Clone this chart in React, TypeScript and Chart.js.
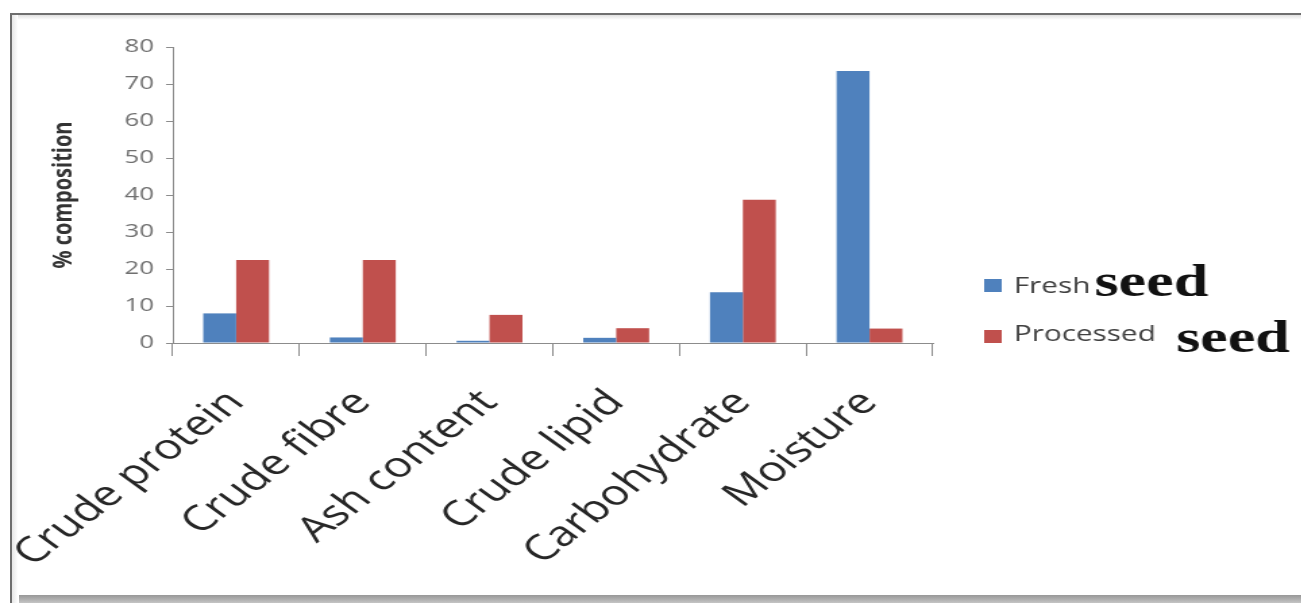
import React, { useEffect, useRef } from "react";
import { Chart, registerables } from "chart.js";

Chart.register(...registerables);

// Proximate composition of the seed, per cent
const categories = ["Crude protein", "Crude fibre", "Ash content", "Crude lipid", "Carbohydrate", "Moisture"];
const freshSeed = [8.0, 1.5, 0.6, 1.4, 13.7, 73.5];
const processedSeed = [22.4, 22.4, 7.6, 4.0, 38.7, 3.9];
const seriesNames = ["Fresh", "Processed"];
const seriesSuffix = ["seed", "seed"];
const seriesColors = ["#4F81BD", "#C0504D"];
const yTicks = [0, 10, 20, 30, 40, 50, 60, 70, 80];
const yTitle = "% composition";

// The drawing is made narrow and widened on screen, which gives the wide lettering.
const STRETCH = 1.35;
const CANVAS_W = 964;
const CANVAS_H = 603;

const legendRows = [
  { boxTop: 279, base: 293, gap: 3, suffixBase: 296 },
  { boxTop: 330, base: 341, gap: 15, suffixBase: 352 },
];

const seedLegend = {
  id: "seedLegend",
  afterDraw(chart: any) {
    const { ctx, chartArea } = chart;
    const x0 = chartArea.right + 38;
    ctx.save();
    chart.data.datasets.forEach((ds: any, i: number) => {
      const row = legendRows[i];
      ctx.fillStyle = ds.backgroundColor;
      ctx.fillRect(x0, row.boxTop, 13, 13);
      ctx.textBaseline = "alphabetic";
      ctx.textAlign = "left";
      ctx.font = '22px "Open Sans"';
      ctx.fillStyle = "#404040";
      ctx.fillText(seriesNames[i], x0 + 22, row.base);
      const w = ctx.measureText(seriesNames[i]).width;
      ctx.font = 'bold 46px "Liberation Serif"';
      ctx.fillStyle = "#111111";
      ctx.fillText(seriesSuffix[i], x0 + 22 + w + row.gap, row.suffixBase);
    });
    ctx.restore();
  },
};

export default function App() {
  const canvasRef = useRef<HTMLCanvasElement | null>(null);

  useEffect(() => {
    if (!canvasRef.current) return;
    const axisColor = "#8c8c8c";
    const chart = new Chart(canvasRef.current, {
      type: "bar",
      data: {
        labels: categories,
        datasets: [
          {
            label: seriesNames[0] + " " + seriesSuffix[0],
            data: freshSeed,
            backgroundColor: seriesColors[0],
            categoryPercentage: 0.52,
            barPercentage: 1,
          },
          {
            label: seriesNames[1] + " " + seriesSuffix[1],
            data: processedSeed,
            backgroundColor: seriesColors[1],
            categoryPercentage: 0.52,
            barPercentage: 1,
          },
        ],
      },
      options: {
        responsive: false,
        animation: false,
        devicePixelRatio: 1,
        layout: { padding: { left: 32, top: 47, right: 273, bottom: 0 } },
        plugins: {
          legend: { display: false },
          tooltip: { enabled: false },
        },
        scales: {
          x: {
            grid: { drawOnChartArea: false, drawTicks: true, tickLength: 13, color: axisColor, offset: true },
            border: { color: axisColor, width: 1 },
            ticks: {
              autoSkip: false,
              minRotation: 46,
              maxRotation: 46,
              padding: 26,
              color: "#262626",
              font: { family: '"Open Sans"', size: 35 },
            },
            afterFit: (s: any) => {
              s.height = 260;
              // rotated labels may run past the plot edge; keep the plot where it is
              s.paddingLeft = 0;
              s.paddingRight = 0;
            },
          },
          y: {
            min: 0,
            max: 80,
            grid: { drawOnChartArea: false, drawTicks: true, tickLength: 5, color: axisColor },
            border: { color: axisColor, width: 1 },
            ticks: {
              padding: 9,
              color: "#707070",
              font: { family: '"Open Sans"', size: 19 },
            },
            afterBuildTicks: (s: any) => {
              s.ticks = yTicks.map((v) => ({ value: v }));
            },
            title: {
              display: true,
              text: yTitle,
              color: "#333333",
              font: { family: '"Open Sans"', size: 20, weight: "bold" },
              padding: { top: 3, bottom: 0 },
            },
            afterFit: (s: any) => {
              s.width = 96;
            },
          },
        },
      },
      plugins: [seedLegend],
    });
    return () => chart.destroy();
  }, []);

  return (
    <div
      style={{
        position: "fixed",
        left: 0,
        top: 0,
        width: 1301,
        height: 603,
        overflow: "hidden",
        background: "#ffffff",
      }}
    >
      <div style={{ position: "absolute", left: 12, top: 15, right: 0, height: 5, background: "linear-gradient(#e0e0e0, #ffffff)" }} />
      <div style={{ position: "absolute", left: 12, top: 15, width: 6, bottom: 0, background: "linear-gradient(90deg, #e6e6e6, #ffffff)" }} />
      <div style={{ position: "absolute", left: 10, top: 13, right: 0, height: 2, background: "#6e6e6e" }} />
      <div style={{ position: "absolute", left: 10, top: 13, width: 2, bottom: 0, background: "#6e6e6e" }} />
      <div style={{ position: "absolute", left: 19, top: 595, right: 0, height: 8, background: "linear-gradient(#979797, #c4c4c4)" }} />
      <div
        style={{
          position: "absolute",
          left: 0,
          top: 0,
          width: CANVAS_W,
          height: CANVAS_H,
          transform: `scaleX(${STRETCH})`,
          transformOrigin: "0 0",
        }}
      >
        <canvas
          ref={canvasRef}
          width={CANVAS_W}
          height={CANVAS_H}
          style={{ display: "block", width: CANVAS_W, height: CANVAS_H }}
        />
      </div>
    </div>
  );
}
